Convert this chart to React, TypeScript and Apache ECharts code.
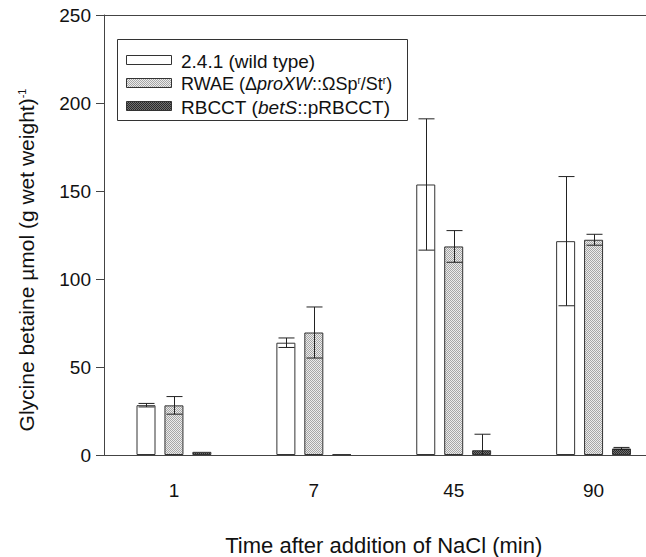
import React, { useEffect, useRef } from "react";
import * as echarts from "echarts";

const categories = ["1", "7", "45", "90"];
const seriesNames = ["2.4.1 (wild type)", "RWAE", "RBCCT"];
const legendLabels = [
  "2.4.1 (wild type)",
  "RWAE (Δ{i|proXW}::ΩSp{sup|r}/St{sup|r})",
  "RBCCT ({i|betS}::pRBCCT)",
];
const wildTypeMean = [28.3, 63.8, 153.7, 121.5];
const wildTypeErr = [1.0, 2.7, 37.3, 36.7];
const rwaeMean = [28.2, 69.6, 118.5, 122.3];
const rwaeErr = [5.0, 14.5, 9.0, 3.1];
const rbcctMean = [1.8, 0.4, 2.7, 3.7];
const rbcctErr = [0, 0, 9.1, 0.6];
const yMin = 0;
const yMax = 250;
const yStep = 50;

const FONT = '"Liberation Sans", Arial, Helvetica, sans-serif';

function makePattern(a: string, b: string) {
  const c = document.createElement("canvas");
  c.width = 2;
  c.height = 2;
  const ctx = c.getContext("2d")!;
  ctx.fillStyle = b;
  ctx.fillRect(0, 0, 2, 2);
  ctx.fillStyle = a;
  ctx.fillRect(0, 0, 1, 1);
  ctx.fillRect(1, 1, 1, 1);
  return { image: c, repeat: "repeat" };
}

export default function App() {
  const ref = useRef<HTMLDivElement>(null);
  useEffect(() => {
    if (!ref.current) return;
    const chart = echarts.init(ref.current, null, { renderer: "svg" });
    const fills: any[] = [
      "#ffffff",
      makePattern("#a6a6a6", "#ececec"),
      makePattern("#2a2a2a", "#707070"),
    ];
    const barWidth = 19;
    const gapRatio = 0.47;
    const step = barWidth * (1 + gapRatio);
    const offsets = [-step, 0, step];
    const means = [wildTypeMean, rwaeMean, rbcctMean];
    const errs = [wildTypeErr, rwaeErr, rbcctErr];
    const errorData: number[][] = [];
    means.forEach((m, s) =>
      m.forEach((v, i) => {
        if (errs[s][i] > 0) errorData.push([i, v - errs[s][i], v + errs[s][i], s]);
      })
    );
    const axisColor = "#444";
    const textColor = "#111";

    const legendEls: any[] = [
      {
        type: "rect",
        shape: { x: 117.5, y: 39.5, width: 290, height: 81 },
        style: { fill: "#fff", stroke: "#333", lineWidth: 1 },
        z: 100,
      },
    ];
    const rowY = [60, 83, 106];
    const rowFont = [19, 18, 19];
    legendLabels.forEach((lab, k) => {
      legendEls.push({
        type: "rect",
        shape: { x: 126.5, y: rowY[k] - 4.5, width: 45, height: 9 },
        style: { fill: fills[k], stroke: "#333", lineWidth: 1 },
        z: 101,
      });
      legendEls.push({
        type: "text",
        x: 181,
        y: rowY[k] + 1,
        style: {
          text: lab,
          fontSize: rowFont[k],
          fontFamily: FONT,
          fill: textColor,
          verticalAlign: "middle",
          rich: {
            i: { fontSize: rowFont[k], fontStyle: "italic", fontFamily: FONT, fill: textColor },
            sup: { fontSize: 10, fontFamily: FONT, fill: textColor, verticalAlign: "top", padding: [0, 0, 6, 0] },
          },
        },
        z: 101,
      });
    });

    chart.setOption({
      animation: false,
      backgroundColor: "#fff",
      grid: {
        left: 104,
        right: -17.5,
        top: 15,
        bottom: 102,
        containLabel: false,
        outerBoundsMode: "none",
      },
      xAxis: [
        {
          type: "category",
          data: categories,
          position: "bottom",
          axisLine: { lineStyle: { color: axisColor, width: 1 } },
          axisTick: { alignWithLabel: true, length: 7, lineStyle: { color: axisColor } },
          axisLabel: { fontSize: 19, color: textColor, margin: 26, fontFamily: FONT },
          name: "Time after addition of NaCl (min)",
          nameLocation: "middle",
          nameGap: 79,
          nameTextStyle: { fontSize: 22, color: textColor, fontFamily: FONT },
        },
        {
          type: "category",
          data: categories,
          position: "top",
          axisLine: { lineStyle: { color: axisColor, width: 1 } },
          axisTick: { show: false },
          axisLabel: { show: false },
        },
      ],
      yAxis: {
        type: "value",
        min: yMin,
        max: yMax,
        interval: yStep,
        axisLine: { show: true, lineStyle: { color: axisColor, width: 1 } },
        axisTick: { show: true, length: 8, lineStyle: { color: axisColor } },
        splitLine: { show: false },
        axisLabel: { fontSize: 19, color: textColor, margin: 13, fontFamily: FONT },
        name: "Glycine betaine µmol (g wet weight){sup|-1}",
        nameLocation: "middle",
        nameGap: 67,
        nameRotate: 90,
        nameTextStyle: {
          fontSize: 21,
          color: textColor,
          fontFamily: FONT,
          padding: [0, 50, 0, 0],
          rich: {
            sup: { fontSize: 11, color: textColor, fontFamily: FONT, verticalAlign: "top", padding: [0, 0, 9, 0] },
          },
        },
      },
      series: [
        ...means.map((m, s) => ({
          type: "bar",
          name: seriesNames[s],
          data: m,
          barWidth,
          barGap: `${gapRatio * 100}%`,
          itemStyle: { color: fills[s], borderColor: "#333", borderWidth: 1 },
          z: 2,
        })),
        {
          type: "custom",
          name: "error",
          data: errorData,
          clip: true,
          z: 5,
          renderItem: (params: any, api: any) => {
            const cat = api.value(0);
            const lo = api.value(1);
            const hi = api.value(2);
            const s = api.value(3);
            const pLo = api.coord([cat, lo]);
            const pHi = api.coord([cat, hi]);
            const x = Math.round(pLo[0] + offsets[s]) + 0.5;
            const cap = 8;
            const st = { stroke: "#222", lineWidth: 1 };
            return {
              type: "group",
              children: [
                { type: "line", shape: { x1: x, y1: pLo[1], x2: x, y2: pHi[1] }, style: st },
                { type: "line", shape: { x1: x - cap, y1: pHi[1], x2: x + cap, y2: pHi[1] }, style: st },
                { type: "line", shape: { x1: x - cap, y1: pLo[1], x2: x + cap, y2: pLo[1] }, style: st },
              ],
            };
          },
        },
      ],
      graphic: legendEls,
    });
    return () => chart.dispose();
  }, []);
  return (
    <div
      ref={ref}
      style={{ position: "absolute", left: 0, top: 0, width: 646, height: 557 }}
    />
  );
}
